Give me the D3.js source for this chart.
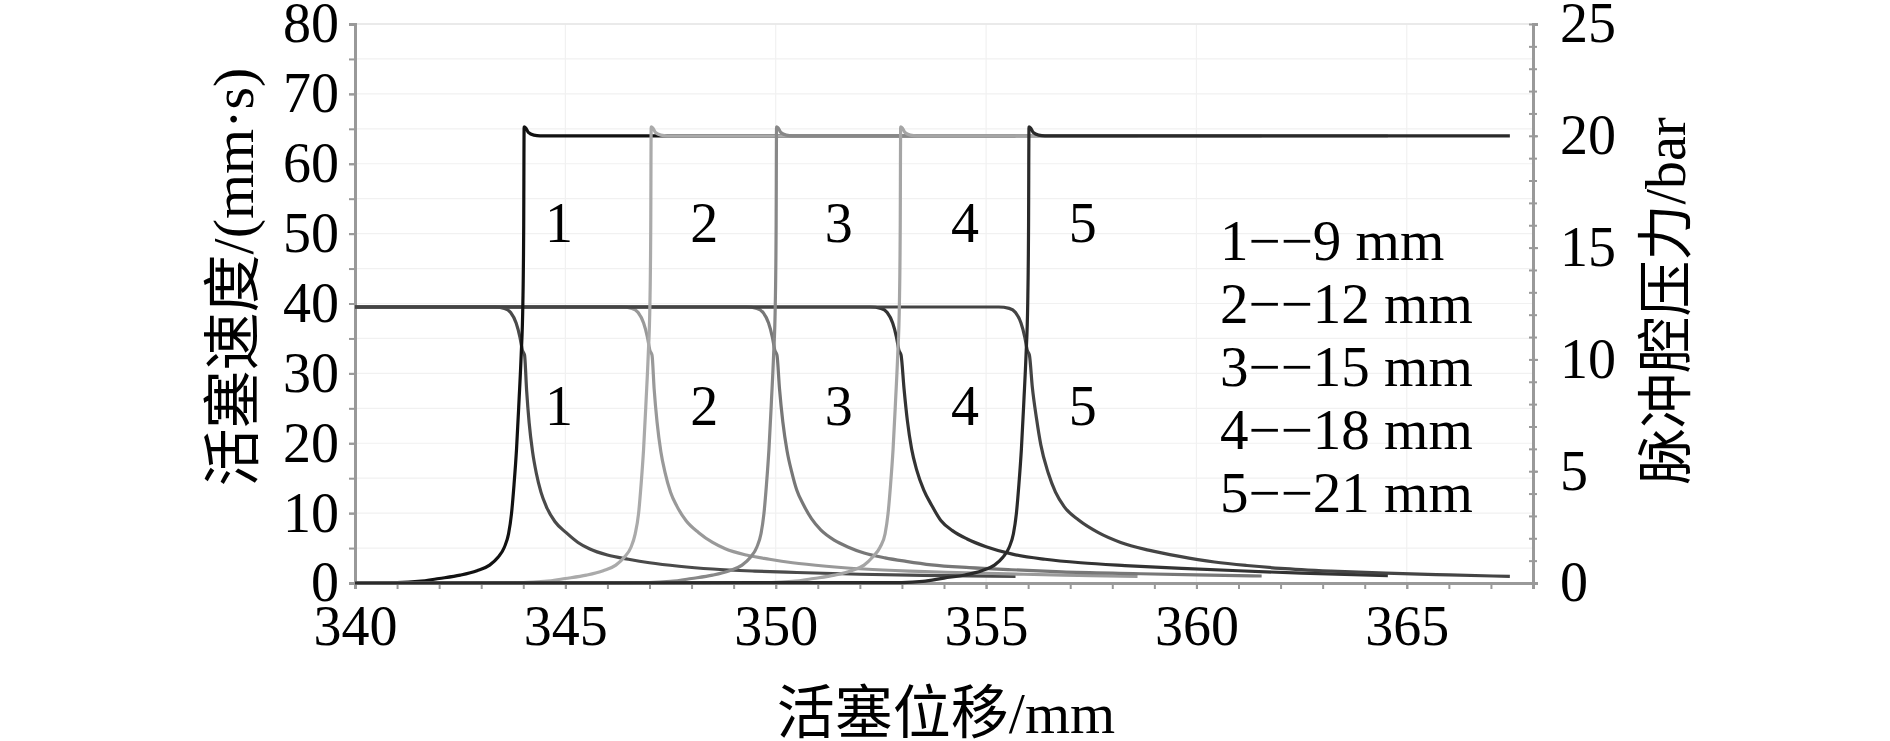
<!DOCTYPE html>
<html>
<head>
<meta charset="utf-8">
<script src="https://cdn.jsdelivr.net/npm/d3@7"></script>
<style>
  body { margin: 0; background: #fff; }
  svg { display: block; }
  text { font-family: "Liberation Serif", "Noto Sans CJK SC", serif; fill: #000; }
</style>
</head>
<body>
<svg id="chart" width="1890" height="741"></svg>
<script>
// axis ticks
let xTicks = [340, 345, 350, 355, 360, 365];
let xMinor = d3.range(340, 368.1, 1);
let leftTicks = [0, 10, 20, 30, 40, 50, 60, 70, 80];
let leftMinor = d3.range(0, 80.1, 5);
let rightTicks = [0, 5, 10, 15, 20, 25];
let rightMinor = d3.range(0, 25.1, 1);

// piston velocity (mm/s) vs displacement, one per cushion length
let vel1 = [[340,39.5],[343.3,39.5],[343.55,39.3],[343.7,38.7],[343.83,37.2],[343.92,35.2],[343.98,33.3],[344.03,32.6],[344.08,27.5],[344.14,22.9],[344.22,18.8],[344.31,15.7],[344.42,13.0],[344.55,10.9],[344.75,8.8],[345.02,7.2],[345.3,5.8],[345.57,4.9],[346.0,4.0],[346.5,3.4],[347.0,2.9],[347.7,2.4],[348.5,2.0],[349.5,1.7],[350.5,1.5],[352,1.25],[353.5,1.1],[355.7,0.95]];
let vel2 = [[340,39.5],[346.33,39.5],[346.58,39.3],[346.73,38.7],[346.86,37.2],[346.95,35.2],[347.01,33.3],[347.06,32.6],[347.11,27.8],[347.18,23.0],[347.27,18.8],[347.37,15.8],[347.5,13.0],[347.65,11.0],[347.87,8.9],[348.17,7.2],[348.5,5.8],[348.8,4.9],[349.3,4.0],[349.85,3.4],[350.4,2.9],[351.2,2.4],[352.1,2.0],[353.2,1.7],[354.3,1.5],[355.9,1.25],[357.2,1.1],[358.6,0.95]];
let vel3 = [[340,39.5],[349.3,39.5],[349.55,39.3],[349.7,38.7],[349.83,37.2],[349.92,35.2],[349.98,33.3],[350.03,32.6],[350.09,27.8],[350.17,23.0],[350.27,18.9],[350.38,15.9],[350.5,13.3],[350.66,11.2],[350.85,9.2],[351.07,7.6],[351.4,6.1],[351.7,5.2],[352.1,4.3],[352.6,3.6],[353.1,3.1],[353.7,2.6],[354.6,2.2],[355.6,1.9],[356.8,1.6],[358.5,1.35],[360,1.15],[361.55,1.0]];
let vel4 = [[340,39.5],[352.25,39.5],[352.5,39.3],[352.65,38.7],[352.78,37.2],[352.87,35.2],[352.93,33.3],[352.98,32.6],[353.05,27.8],[353.13,23.2],[353.23,19.2],[353.35,16.2],[353.52,13.3],[353.7,11.2],[353.93,8.9],[354.2,7.5],[354.55,6.3],[355.0,5.2],[355.65,4.1],[356.4,3.4],[357.25,2.9],[358.3,2.5],[359.65,2.1],[361,1.75],[362.5,1.4],[364.55,1.05]];
let vel5 = [[340,39.5],[355.3,39.5],[355.55,39.3],[355.7,38.7],[355.83,37.2],[355.92,35.2],[355.98,33.3],[356.03,32.6],[356.1,28.0],[356.2,23.5],[356.3,19.8],[356.48,15.7],[356.65,13.0],[356.86,10.9],[357.2,9.0],[357.67,7.2],[358.2,5.8],[358.86,4.7],[359.6,3.8],[360.43,3.0],[361.2,2.5],[362,2.1],[363.2,1.7],[364.5,1.4],[366,1.15],[367.45,0.95]];

// pulse chamber pressure (bar) vs displacement
let pre1 = [[340,0],[341,0.02],[341.5,0.07],[342,0.2],[342.5,0.35],[342.9,0.55],[343.2,0.8],[343.4,1.15],[343.55,1.6],[343.65,2.2],[343.72,3.1],[343.78,4.4],[343.84,6.0],[343.9,8.2],[343.95,10.2],[343.99,12.5],[344.01,16],[344.02,20.4],[344.06,20.35],[344.12,20.15],[344.25,20.03],[344.4,20.0],[355.7,20.0]];
let pre2 = [[340,0],[344,0.02],[344.5,0.07],[345,0.2],[345.5,0.35],[345.9,0.55],[346.2,0.8],[346.4,1.15],[346.56,1.6],[346.66,2.2],[346.74,3.1],[346.8,4.4],[346.86,6.0],[346.92,8.2],[346.97,10.2],[347.01,12.5],[347.03,16],[347.04,20.4],[347.08,20.35],[347.14,20.15],[347.27,20.03],[347.42,20.0],[358.6,20.0]];
let pre3 = [[340,0],[347,0.02],[347.5,0.07],[348,0.2],[348.5,0.35],[348.9,0.55],[349.2,0.8],[349.4,1.15],[349.55,1.6],[349.65,2.2],[349.72,3.1],[349.78,4.4],[349.84,6.0],[349.9,8.2],[349.95,10.2],[349.99,12.5],[350.01,16],[350.02,20.4],[350.06,20.35],[350.12,20.15],[350.25,20.03],[350.4,20.0],[361.55,20.0]];
let pre4 = [[340,0],[349.9,0.02],[350.4,0.07],[350.9,0.2],[351.4,0.35],[351.8,0.55],[352.1,0.8],[352.3,1.15],[352.48,1.6],[352.6,2.2],[352.67,3.1],[352.73,4.4],[352.79,6.0],[352.85,8.2],[352.9,10.2],[352.94,12.5],[352.96,16],[352.97,20.4],[353.01,20.35],[353.07,20.15],[353.2,20.03],[353.35,20.0],[364.55,20.0]];
let pre5 = [[340,0],[353,0.02],[353.5,0.07],[354,0.22],[354.5,0.36],[354.9,0.55],[355.2,0.8],[355.4,1.15],[355.55,1.6],[355.65,2.2],[355.72,3.1],[355.78,4.4],[355.84,6.0],[355.9,8.2],[355.95,10.2],[355.99,12.5],[356.01,16],[356.02,20.4],[356.06,20.35],[356.12,20.15],[356.25,20.03],[356.4,20.0],[367.45,20.0]];

let velSeries = [vel1, vel2, vel3, vel4, vel5];
let preSeries = [pre1, pre2, pre3, pre4, pre5];
let velColors = ['#4a4a4a', '#999', '#777', '#333', '#444'];
let preColors = ['#111', '#aaa', '#888', '#a5a5a5', '#2a2a2a'];

// curve numbers inside the plot
let caseNames = ['1', '2', '3', '4', '5'];
let caseLabelX = [344.85, 348.3, 351.5, 354.5, 357.3];
let upperLabelY = 51.5;
let lowerLabelY = 25.2;

let legendLines = ['1\u2212\u22129 mm', '2\u2212\u221212 mm', '3\u2212\u221215 mm', '4\u2212\u221218 mm', '5\u2212\u221221 mm'];

let svg = d3.select('#chart');

let x = d3.scaleLinear().domain([340, 368]).range([355, 1533]);
let yL = d3.scaleLinear().domain([0, 80]).range([583, 24]);
let yR = d3.scaleLinear().domain([0, 25]).range([583, 24]);

let grid = svg.append('g');
let axes = svg.append('g');
let lines = svg.append('g');
let labels = svg.append('g');

// faint grid
grid.selectAll('.hgrid')
  .data(leftMinor)
  .join('line')
  .attr('class', 'hgrid')
  .attr('x1', x(340)).attr('x2', x(368))
  .attr('y1', d => yL(d)).attr('y2', d => yL(d))
  .style('stroke', '#f1f1f1')
  .style('stroke-width', 1.2);

grid.selectAll('.vgrid')
  .data(xTicks)
  .join('line')
  .attr('class', 'vgrid')
  .attr('x1', d => x(d)).attr('x2', d => x(d))
  .attr('y1', yL(0)).attr('y2', yL(80))
  .style('stroke', '#f1f1f1')
  .style('stroke-width', 1.2);

// top border (faint)
grid.append('line')
  .attr('x1', x(340)).attr('x2', x(368))
  .attr('y1', yL(80)).attr('y2', yL(80))
  .style('stroke', '#e6e6e6')
  .style('stroke-width', 1.5);

function styleAxis(g) {
  g.select('.domain').style('stroke', '#999').style('stroke-width', 3);
  g.selectAll('.tick line').style('stroke', '#999').style('stroke-width', 2);
  g.selectAll('.tick text').style('font-size', '56px').style('fill', '#000');
}

// minor ticks
axes.append('g')
  .attr('transform', `translate(0,${yL(0)})`)
  .call(d3.axisBottom(x).tickValues(xMinor).tickSize(6).tickFormat(''))
  .call(styleAxis);
axes.append('g')
  .attr('transform', `translate(${x(340)},0)`)
  .call(d3.axisLeft(yL).tickValues(leftMinor).tickSize(6).tickFormat(''))
  .call(styleAxis);
axes.append('g')
  .attr('transform', `translate(${x(368)},0)`)
  .call(d3.axisRight(yR).tickValues(rightMinor).tickSizeInner(-4).tickSizeOuter(0).tickFormat(''))
  .call(styleAxis);
axes.append('g')
  .attr('transform', `translate(${x(368)},0)`)
  .call(d3.axisRight(yR).tickValues(rightMinor).tickSize(4).tickFormat(''))
  .call(styleAxis);

// labelled ticks
axes.append('g')
  .attr('transform', `translate(0,${yL(0)})`)
  .call(d3.axisBottom(x).tickValues(xTicks).tickSize(6).tickPadding(16).tickFormat(d3.format('d')))
  .call(styleAxis);
axes.append('g')
  .attr('transform', `translate(${x(340)},0)`)
  .call(d3.axisLeft(yL).tickValues(leftTicks).tickSize(6).tickPadding(10).tickFormat(d3.format('d')))
  .call(styleAxis);
axes.append('g')
  .attr('transform', `translate(${x(368)},0)`)
  .call(d3.axisRight(yR).tickValues(rightTicks).tickSize(5).tickPadding(22).tickFormat(d3.format('d')))
  .call(styleAxis);

// curves
let velLine = d3.line().x(d => x(d[0])).y(d => yL(d[1])).curve(d3.curveMonotoneX);
let preLine = d3.line().x(d => x(d[0])).y(d => yR(d[1])).curve(d3.curveMonotoneX);

lines.selectAll('.vel')
  .data(velSeries)
  .join('path')
  .attr('class', 'vel')
  .attr('d', d => velLine(d))
  .style('fill', 'none')
  .style('stroke', (d, i) => velColors[i])
  .style('stroke-width', 3.2);

lines.selectAll('.pre')
  .data(preSeries)
  .join('path')
  .attr('class', 'pre')
  .attr('d', d => preLine(d))
  .style('fill', 'none')
  .style('stroke', (d, i) => preColors[i])
  .style('stroke-width', 3.2);

// curve numbers
labels.selectAll('.up')
  .data(caseNames)
  .join('text')
  .attr('class', 'up')
  .attr('x', (d, i) => x(caseLabelX[i]))
  .attr('y', yL(upperLabelY))
  .attr('dy', '0.33em')
  .attr('text-anchor', 'middle')
  .style('font-size', '56px')
  .text(d => d);

labels.selectAll('.low')
  .data(caseNames)
  .join('text')
  .attr('class', 'low')
  .attr('x', (d, i) => x(caseLabelX[i]))
  .attr('y', yL(lowerLabelY))
  .attr('dy', '0.33em')
  .attr('text-anchor', 'middle')
  .style('font-size', '56px')
  .text(d => d);

// legend text
labels.selectAll('.leg')
  .data(legendLines)
  .join('text')
  .attr('class', 'leg')
  .attr('x', 1220)
  .attr('y', (d, i) => 241 + i * 63)
  .attr('dy', '0.33em')
  .style('font-size', '57px')
  .text(d => d);

// axis titles
labels.append('text')
  .attr('transform', 'translate(233,277) rotate(-90)')
  .attr('text-anchor', 'middle')
  .attr('dy', '0.35em')
  .style('font-size', '58px')
  .text('活塞速度/(mm·s)');

labels.append('text')
  .attr('transform', 'translate(1665,301) rotate(-90)')
  .attr('text-anchor', 'middle')
  .attr('dy', '0.35em')
  .style('font-size', '56px')
  .text('脉冲腔压力/bar');

labels.append('text')
  .attr('x', 946)
  .attr('y', 713)
  .attr('text-anchor', 'middle')
  .attr('dy', '0.35em')
  .style('font-size', '58px')
  .text('活塞位移/mm');
</script>
</body>
</html>
